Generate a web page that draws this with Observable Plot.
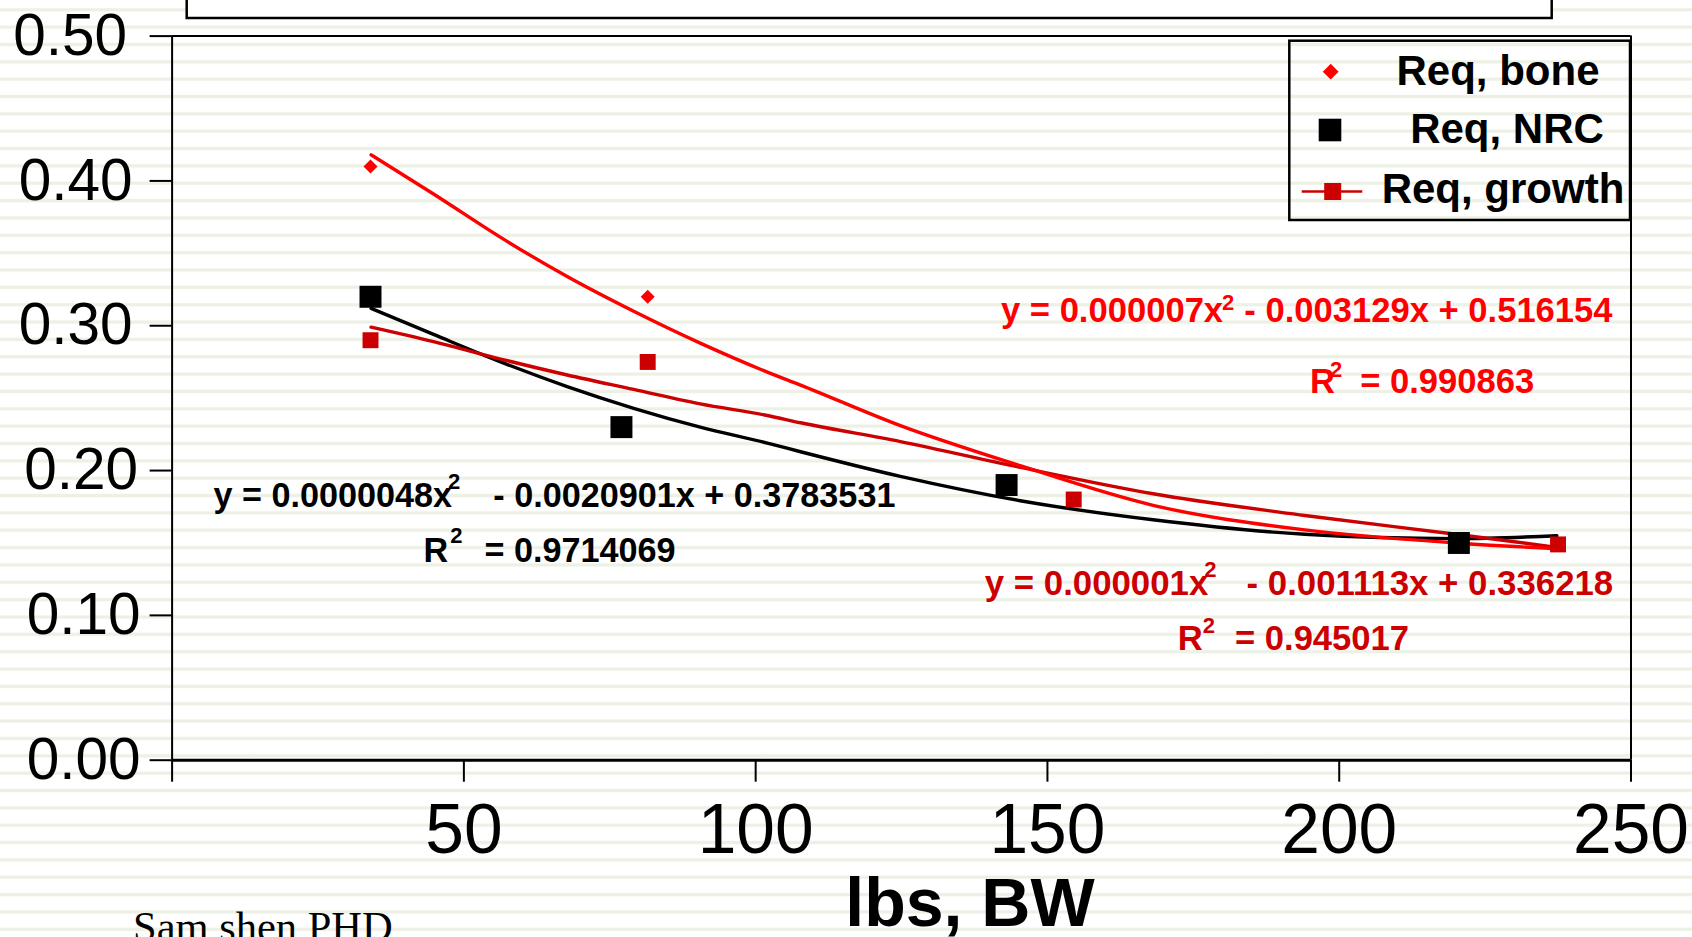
<!DOCTYPE html>
<html><head><meta charset="utf-8">
<script src="https://cdn.jsdelivr.net/npm/d3@7"></script>
<script src="https://cdn.jsdelivr.net/npm/@observablehq/plot@0.6"></script>
<style>
html,body{margin:0;padding:0;overflow:hidden;width:1692px;height:937px;}
body{background:repeating-linear-gradient(to bottom,#fff 0px,#fff 7.5px,#edf1e5 8.7px,#edf1e5 10.8px,#fff 12px,#fff 17.35px);}
#chart svg{display:block;}
</style></head><body><div id="chart"></div>
<script>
// ---- data ----
const seriesNames = ["Req, bone", "Req, NRC", "Req, growth"];
const boneX = [34, 81.5];
const boneY = [0.41, 0.32];
const nrcX = [34, 77, 143, 220.5];
const nrcY = [0.32, 0.23, 0.19, 0.15];
const growthX = [34, 81.5, 154.5, 237.5];
const growthY = [0.29, 0.275, 0.18, 0.149];
// trend lines
const trendX = [34.1, 44.8, 56.3, 67.7, 79.1, 90.5, 102, 107.7, 124.8, 145.6, 168.1, 194.1, 220, 237.3];
const boneTrendY = [0.418, 0.391, 0.361, 0.334, 0.310, 0.288, 0.268, 0.259, 0.231, 0.203, 0.176, 0.159, 0.150, 0.146];
const growthTrendY = [0.299, 0.289, 0.277, 0.266, 0.256, 0.246, 0.238, 0.233, 0.220, 0.202, 0.184, 0.169, 0.156, 0.147];
const nrcTrendY = [0.312, 0.294, 0.275, 0.258, 0.243, 0.230, 0.219, 0.213, 0.196, 0.179, 0.166, 0.156, 0.153, 0.155];
const xTicks = [0, 50, 100, 150, 200, 250];
const yTicks = [0, 0.1, 0.2, 0.3, 0.4, 0.5];
const xLabel = "lbs, BW";
const caption = "Sam shen PHD";
// equation texts: [before superscript, superscript, after]
const eqNRC = ["y = 0.0000048x", "2", "- 0.0020901x + 0.3783531"];
const r2NRC = ["R", "2", "= 0.9714069"];
const eqBone = ["y = 0.000007x", "2", "- 0.003129x + 0.516154"];
const r2Bone = ["R", "2", "= 0.990863"];
const eqGrowth = ["y = 0.000001x", "2", "- 0.001113x + 0.336218"];
const r2Growth = ["R", "2", "= 0.945017"];

// ---- styles / layout ----
const RED = "#ff0000", DARKRED = "#cc0000", BLACK = "#000000";
const FONT = "'Liberation Sans', Arial, sans-serif";
const yFmt = d3.format(".2f");
// y tick labels sit at slightly different distances from the axis in the original
const yLabelGroups = [[[0.5], 23], [[0.4, 0.3], 17.5], [[0.2], 12], [[0.1, 0], 9.5]];

const plot = Plot.plot({
  width: 1692, height: 937,
  marginLeft: 171.6, marginRight: 61.5, marginTop: 35.6, marginBottom: 177.3,
  x: {domain: [0, 250]},
  y: {domain: [0, 0.5]},
  style: {fontFamily: FONT, color: "black", background: "transparent", overflow: "visible"},
  marks: [
    Plot.ruleY([0.5], {stroke: BLACK, strokeWidth: 2}),
    Plot.ruleX([250], {stroke: BLACK, strokeWidth: 2}),
    Plot.ruleX([0], {stroke: BLACK, strokeWidth: 2}),
    Plot.ruleY([0], {stroke: BLACK, strokeWidth: 3}),
    Plot.axisX(xTicks, {tickSize: 22, tickPadding: 21, fontSize: 69.5, strokeWidth: 2,
      tickFormat: d => d === 0 ? "" : String(d), label: null}),
    ...yLabelGroups.map(([ticks, pad]) => Plot.axisY(ticks.filter(t => yTicks.includes(t)),
      {tickSize: 22, tickPadding: pad, fontSize: 58.5, strokeWidth: 2, tickFormat: yFmt, label: null})),
    Plot.line(trendX, {x: d => d, y: (d, i) => nrcTrendY[i], stroke: BLACK, strokeWidth: 3.4, curve: "monotone-x"}),
    Plot.line(trendX, {x: d => d, y: (d, i) => growthTrendY[i], stroke: DARKRED, strokeWidth: 3.4, curve: "monotone-x"}),
    Plot.line(trendX, {x: d => d, y: (d, i) => boneTrendY[i], stroke: RED, strokeWidth: 3.4, curve: "monotone-x"}),
    Plot.dot(nrcX, {x: d => d, y: (d, i) => nrcY[i], symbol: "square", r: 12.4, fill: BLACK, stroke: "none"}),
    Plot.dot(growthX, {x: d => d, y: (d, i) => growthY[i], symbol: "square", r: 9, fill: DARKRED, stroke: "none"}),
    Plot.dot(boneX, {x: d => d, y: (d, i) => boneY[i], symbol: "diamond2", r: 6.3, fill: RED, stroke: "none"})
  ]
});
document.getElementById("chart").appendChild(plot);

const svg = d3.select(plot);
const sx = plot.scale("x"), sy = plot.scale("y");

// equation annotations (anchor in data units)
function eq(parts, ax, ay, color, supDx, supDy, gap, size) {
  const t = svg.append("text")
    .attr("x", sx.apply(ax)).attr("y", sy.apply(ay)).attr("text-anchor", "start")
    .attr("fill", color).attr("font-family", FONT).attr("font-weight", "bold")
    .attr("font-size", size).style("white-space", "pre");
  t.append("tspan").text(parts[0]);
  t.append("tspan").attr("font-size", 22).attr("dx", supDx).attr("dy", supDy).text(parts[1]);
  t.append("tspan").attr("font-size", size).attr("dx", gap).attr("dy", -supDy).text(parts[2]);
}
eq(eqNRC, 7.18, 0.1747, BLACK, -4, -18, 33, 34.2);
eq(r2NRC, 43.18, 0.1367, BLACK, 2, -19, 22, 34.2);
eq(eqBone, 142.13, 0.3024, RED, -1, -12, 10, 34.6);
eq(r2Bone, 195.08, 0.2530, RED, -5, -16, 18, 34.6);
eq(eqGrowth, 139.35, 0.1137, DARKRED, -4, -18, 30, 34.8);
eq(r2Growth, 172.42, 0.0757, DARKRED, 0, -17, 20, 34.6);

// title box at top (text cut off above)
svg.append("rect").attr("x", 186.7).attr("y", -10).attr("width", 1365).attr("height", 28)
  .attr("fill", "white").attr("stroke", "black").attr("stroke-width", 2.5);

// legend
const lg = svg.append("g");
lg.append("rect").attr("x", 1289.3).attr("y", 40.7).attr("width", 340.7).attr("height", 179.3)
  .attr("fill", "none").attr("stroke", "black").attr("stroke-width", 2.5);
lg.append("path").attr("d", d3.symbol(d3.symbolDiamond2, 160)()).attr("transform", "translate(1330.7,71.7)").attr("fill", RED);
lg.append("rect").attr("x", 1330 - 11.3).attr("y", 130 - 11.3).attr("width", 22.6).attr("height", 22.6).attr("fill", BLACK);
lg.append("line").attr("x1", 1301.7).attr("x2", 1362.3).attr("y1", 191.5).attr("y2", 191.5).attr("stroke", DARKRED).attr("stroke-width", 2.5);
lg.append("rect").attr("x", 1332.7 - 8.5).attr("y", 191.5 - 8.5).attr("width", 17).attr("height", 17).attr("fill", DARKRED);
const legendY = [85, 143.3, 203.3];
const legendCx = [1498, 1507, 1503];
seriesNames.forEach((n, i) => {
  lg.append("text").attr("x", legendCx[i]).attr("y", legendY[i]).attr("text-anchor", "middle")
    .attr("font-family", FONT).attr("font-weight", "bold").attr("font-size", 42).attr("fill", "black").text(n);
});

// x axis title and caption
svg.append("text").attr("x", 970).attr("y", 926).attr("text-anchor", "middle")
  .attr("font-family", FONT).attr("font-weight", "bold").attr("font-size", 68).attr("fill", "black").text(xLabel);
svg.append("text").attr("x", 133).attr("y", 941).attr("text-anchor", "start")
  .attr("font-family", "'Liberation Serif', 'Times New Roman', serif").attr("font-size", 42.5).attr("fill", "black").text(caption);
</script></body></html>
